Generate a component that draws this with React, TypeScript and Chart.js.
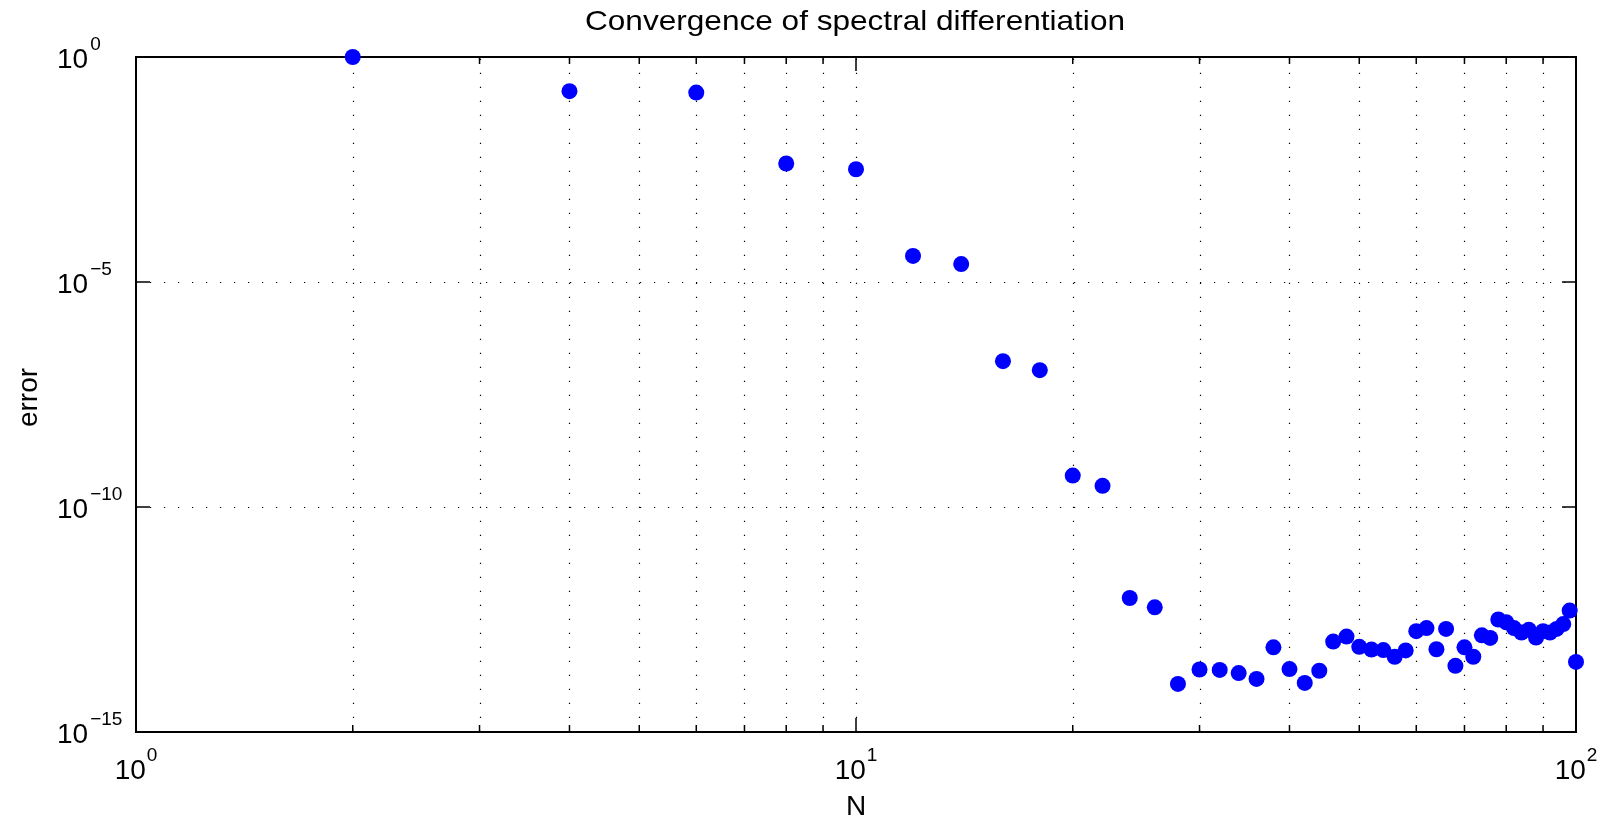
import React, { useEffect, useRef } from "react";
import { Chart, registerables } from "chart.js";

Chart.register(...registerables);

const TITLE = "Convergence of spectral differentiation";
const X_LABEL = "N";
const Y_LABEL = "error";

const nValues = [
  2, 4, 6, 8, 10, 12, 14, 16, 18, 20, 22, 24, 26, 28, 30, 32, 34, 36, 38, 40,
  42, 44, 46, 48, 50, 52, 54, 56, 58, 60, 62, 64, 66, 68, 70, 72, 74, 76, 78, 80,
  82, 84, 86, 88, 90, 92, 94, 96, 98, 100,
];

const errorValues = [
  1.0, 1.74e-1, 1.62e-1, 4.3e-3, 3.2e-3, 3.8e-5, 2.5e-5, 1.74e-7, 1.1e-7, 5.0e-10,
  2.95e-10, 9.5e-13, 5.9e-13, 1.17e-14, 2.45e-14, 2.4e-14, 2.04e-14, 1.51e-14, 7.6e-14, 2.5e-14,
  1.23e-14, 2.3e-14, 1.02e-13, 1.32e-13, 7.8e-14, 6.8e-14, 6.6e-14, 4.7e-14, 6.5e-14, 1.74e-13,
  2.04e-13, 6.9e-14, 1.95e-13, 2.95e-14, 7.6e-14, 4.7e-14, 1.41e-13, 1.23e-13, 3.16e-13, 2.75e-13,
  2.04e-13, 1.62e-13, 1.86e-13, 1.26e-13, 1.74e-13, 1.62e-13, 1.95e-13, 2.5e-13, 5.0e-13, 3.6e-14,
];

const xMajorTicks = [1, 10, 100];
const xMajorLabels = [
  ["10", "0"],
  ["10", "1"],
  ["10", "2"],
];
const xMinorTicks = [2, 3, 4, 5, 6, 7, 8, 9, 20, 30, 40, 50, 60, 70, 80, 90];
const yMajorTicks = [1, 1e-5, 1e-10, 1e-15];
const yMajorLabels = [
  ["10", "0"],
  ["10", "\u22125"],
  ["10", "\u221210"],
  ["10", "\u221215"],
];

const FONT = '"Liberation Sans", Arial, Helvetica, sans-serif';
const BASE_SIZE = 28;
const SUP_SIZE = 19;
const TITLE_WIDTH = 540;

const matlabAxes = {
  id: "matlabAxes",
  beforeDatasetsDraw(chart: any) {
    const { ctx, chartArea: a, scales } = chart;
    const xs = scales.x;
    const ys = scales.y;
    ctx.save();
    ctx.strokeStyle = "#000";
    ctx.lineWidth = 1.2;
    ctx.setLineDash([1.2, 12.8]);
    for (const v of [...xMinorTicks, ...xMajorTicks]) {
      const px = Math.round(xs.getPixelForValue(v)) + 0.5;
      if (px <= a.left + 2 || px >= a.right - 2) continue;
      ctx.beginPath();
      ctx.moveTo(px, a.bottom);
      ctx.lineTo(px, a.top);
      ctx.stroke();
    }
    for (const v of yMajorTicks) {
      const py = Math.round(ys.getPixelForValue(v)) + 0.5;
      if (py <= a.top + 2 || py >= a.bottom - 2) continue;
      ctx.beginPath();
      ctx.moveTo(a.left, py);
      ctx.lineTo(a.right, py);
      ctx.stroke();
    }
    ctx.setLineDash([]);
    ctx.lineWidth = 1.5;
    const major = 14;
    const minor = 7;
    const drawX = (v: number, len: number) => {
      const px = xs.getPixelForValue(v);
      ctx.beginPath();
      ctx.moveTo(px, a.bottom);
      ctx.lineTo(px, a.bottom - len);
      ctx.moveTo(px, a.top);
      ctx.lineTo(px, a.top + len);
      ctx.stroke();
    };
    xMajorTicks.forEach((v) => drawX(v, major));
    xMinorTicks.forEach((v) => drawX(v, minor));
    for (const v of yMajorTicks) {
      const py = ys.getPixelForValue(v);
      ctx.beginPath();
      ctx.moveTo(a.left, py);
      ctx.lineTo(a.left + major, py);
      ctx.moveTo(a.right, py);
      ctx.lineTo(a.right - major, py);
      ctx.stroke();
    }
    ctx.lineWidth = 2;
    ctx.strokeRect(a.left, a.top, a.right - a.left, a.bottom - a.top);
    ctx.restore();
  },
  afterDraw(chart: any) {
    const { ctx, chartArea: a, scales } = chart;
    const xs = scales.x;
    const ys = scales.y;
    ctx.save();
    ctx.fillStyle = "#000";
    ctx.textBaseline = "alphabetic";
    ctx.textAlign = "left";
    // x tick labels
    xMajorTicks.forEach((v, i) => {
      const [base, sup] = xMajorLabels[i];
      const px = xs.getPixelForValue(v);
      ctx.font = `${BASE_SIZE}px ${FONT}`;
      const wb = ctx.measureText(base).width;
      ctx.font = `${SUP_SIZE}px ${FONT}`;
      const ws = ctx.measureText(sup).width;
      const total = wb + 1 + ws;
      const x0 = px - total / 2;
      ctx.font = `${BASE_SIZE}px ${FONT}`;
      ctx.fillText(base, x0, a.bottom + 47);
      ctx.font = `${SUP_SIZE}px ${FONT}`;
      ctx.fillText(sup, x0 + wb + 1, a.bottom + 29);
    });
    // y tick labels
    yMajorTicks.forEach((v, i) => {
      const [base, sup] = yMajorLabels[i];
      const py = ys.getPixelForValue(v);
      const x0 = 57;
      ctx.font = `${BASE_SIZE}px ${FONT}`;
      const wb = ctx.measureText(base).width;
      ctx.fillText(base, x0, py + 11);
      ctx.font = `${SUP_SIZE}px ${FONT}`;
      ctx.fillText(sup, x0 + wb + 2, py - 7);
    });
    const cx = (a.left + a.right) / 2;
    // title (horizontally stretched like the reference rendering)
    ctx.save();
    ctx.font = `${BASE_SIZE}px ${FONT}`;
    ctx.textAlign = "center";
    const tw = ctx.measureText(TITLE).width;
    ctx.translate(cx - 1, 30);
    ctx.scale(TITLE_WIDTH / tw, 1);
    ctx.fillText(TITLE, 0, 0);
    ctx.restore();
    // x label
    ctx.font = `${BASE_SIZE}px ${FONT}`;
    ctx.textAlign = "center";
    ctx.fillText(X_LABEL, cx, 815);
    // y label
    ctx.translate(37, (a.top + a.bottom) / 2 + 3);
    ctx.rotate(-Math.PI / 2);
    ctx.fillText(Y_LABEL, 0, 0);
    ctx.restore();
  },
};

export default function App() {
  const canvasRef = useRef<HTMLCanvasElement | null>(null);

  useEffect(() => {
    const canvas = canvasRef.current;
    if (!canvas) return;
    const points = nValues.map((n, i) => ({ x: n, y: errorValues[i] }));
    const chart = new Chart(canvas, {
      type: "scatter",
      data: {
        datasets: [
          {
            data: points,
            backgroundColor: "#0000ff",
            borderColor: "#0000ff",
            borderWidth: 0,
            pointRadius: 8,
            pointHoverRadius: 8,
            pointStyle: "circle",
            clip: false,
          } as any,
        ],
      },
      options: {
        animation: false,
        responsive: false,
        maintainAspectRatio: false,
        events: [],
        layout: { padding: { left: 136, right: 32, top: 57, bottom: 86 } },
        plugins: {
          legend: { display: false },
          tooltip: { enabled: false },
          title: { display: false },
        },
        scales: {
          x: {
            type: "logarithmic",
            min: 1,
            max: 100,
            display: false,
          },
          y: {
            type: "logarithmic",
            min: 1e-15,
            max: 1,
            display: false,
          },
        },
      },
      plugins: [matlabAxes],
    });
    return () => chart.destroy();
  }, []);

  return (
    <canvas
      ref={canvasRef}
      width={1608}
      height={818}
      style={{ position: "absolute", left: 0, top: 0, width: "1608px", height: "818px", background: "#fff" }}
    />
  );
}
